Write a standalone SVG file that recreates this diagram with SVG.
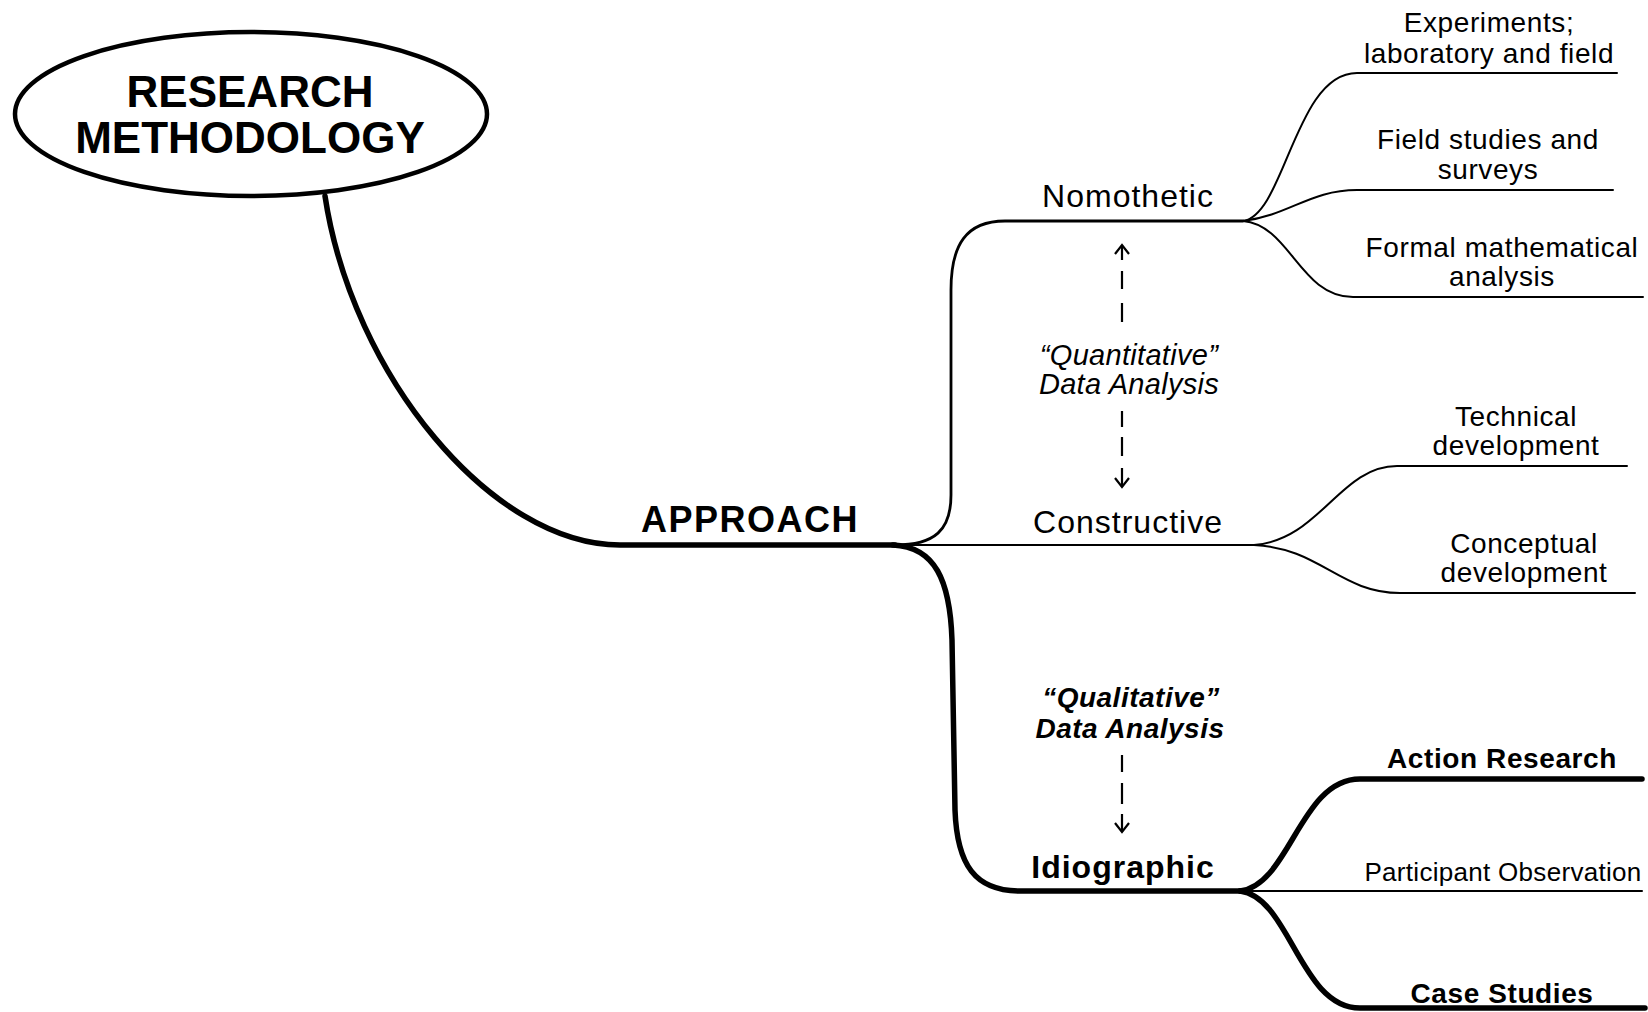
<svg xmlns="http://www.w3.org/2000/svg" width="1648" height="1012" viewBox="0 0 1648 1012">
  <style>
    text { font-family: "Liberation Sans", Arial, sans-serif; fill: #000; text-anchor: middle; }
    .title { font-size: 44px; font-weight: bold; }
    .root { font-size: 36px; font-weight: bold; letter-spacing: 1.5px; }
    .mid { font-size: 32px; letter-spacing: 1px; }
    .midb { font-size: 32px; font-weight: bold; letter-spacing: 1px; }
    .leaf { font-size: 28px; letter-spacing: 0.6px; }
    .leafb { font-size: 28px; font-weight: bold; letter-spacing: 0.6px; }
    .small { font-size: 26px; letter-spacing: 0.3px; }
    .note { font-size: 29px; font-style: italic; letter-spacing: 0.3px; }
    .noteb { font-size: 28px; font-style: italic; font-weight: bold; letter-spacing: 0.5px; }
    .wire { fill: none; stroke: #000; stroke-linecap: round; }
    .heavy { stroke-width: 5.5; }
    .medium { stroke-width: 2.8; }
    .light { stroke-width: 2; }
    .dash { fill: none; stroke: #000; stroke-width: 2.2; }
  </style>

  <!-- connectors -->
  <g id="connectors">
    <!-- root to APPROACH -->
    <path class="wire heavy" d="M325 196 C352 375 492 545 620 545 L895 545"/>
    <!-- APPROACH to the three approaches -->
    <path class="wire medium" d="M895 545 C935 545 951 530 951 495 L951 290 C951 245 966 221 1005 221 L1243 221"/>
    <path class="wire light" d="M895 545 L1254 545"/>
    <path class="wire heavy" d="M893 545 C935 547 950 580 952 640 L955 810 C957 865 975 891 1020 891 L1240 891"/>
    <!-- Nomothetic leaves -->
    <path class="wire light" d="M1243 221 C1285 215 1295 73 1357 73 L1617 73"/>
    <path class="wire light" d="M1243 221 C1290 215 1310 190 1357 190 L1613 190"/>
    <path class="wire light" d="M1243 221 C1290 225 1300 297 1353 297 L1643 297"/>
    <!-- Constructive leaves -->
    <path class="wire light" d="M1254 545 C1320 540 1340 466 1397 466 L1627 466"/>
    <path class="wire light" d="M1254 545 C1320 548 1340 593 1400 593 L1635 593"/>
    <!-- Idiographic leaves -->
    <path class="wire heavy" d="M1240 891 C1290 885 1300 779 1360 779 L1642 779"/>
    <path class="wire light" d="M1240 891 L1642 891"/>
    <path class="wire heavy" d="M1240 891 C1290 897 1300 1008 1360 1008 L1645 1008"/>
    <!-- quantitative range arrows -->
    <path class="dash" d="M1122 245 L1122 260 M1122 271 L1122 289 M1122 303 L1122 322"/>
    <path class="dash" d="M1115 254 L1122 245 L1129 254"/>
    <path class="dash" d="M1122 411 L1122 427 M1122 437 L1122 456 M1122 468 L1122 487"/>
    <path class="dash" d="M1115 478 L1122 487 L1129 478"/>
    <!-- qualitative range arrow -->
    <path class="dash" d="M1122 755 L1122 772 M1122 783 L1122 804 M1122 814 L1122 832"/>
    <path class="dash" d="M1115 823 L1122 832 L1129 823"/>
  </g>

  <g id="research-methodology">
    <ellipse cx="251" cy="114" rx="236" ry="82" fill="#fff" stroke="#000" stroke-width="4.5"/>
    <text class="title" x="250" y="107">RESEARCH</text>
    <text class="title" x="250" y="153">METHODOLOGY</text>
  </g>

  <g id="approach">
    <text class="root" x="750" y="532">APPROACH</text>
  </g>

  <g id="nomothetic">
    <text class="mid" x="1128" y="207">Nomothetic</text>
  </g>
  <g id="quantitative">
    <text class="note" x="1129" y="365">“Quantitative”</text>
    <text class="note" x="1129" y="394">Data Analysis</text>
  </g>
  <g id="constructive">
    <text class="mid" x="1128" y="533">Constructive</text>
  </g>
  <g id="qualitative">
    <text class="noteb" x="1131" y="707">“Qualitative”</text>
    <text class="noteb" x="1130" y="738">Data Analysis</text>
  </g>
  <g id="idiographic">
    <text class="midb" x="1123" y="878">Idiographic</text>
  </g>

  <g id="experiments">
    <text class="leaf" x="1489" y="32">Experiments;</text>
    <text class="leaf" x="1489" y="63">laboratory and field</text>
  </g>
  <g id="field-studies">
    <text class="leaf" x="1488" y="149">Field studies and</text>
    <text class="leaf" x="1488" y="179">surveys</text>
  </g>
  <g id="formal-analysis">
    <text class="leaf" x="1502" y="257">Formal mathematical</text>
    <text class="leaf" x="1502" y="286">analysis</text>
  </g>
  <g id="technical-development">
    <text class="leaf" x="1516" y="426">Technical</text>
    <text class="leaf" x="1516" y="455">development</text>
  </g>
  <g id="conceptual-development">
    <text class="leaf" x="1524" y="553">Conceptual</text>
    <text class="leaf" x="1524" y="582">development</text>
  </g>
  <g id="action-research">
    <text class="leafb" x="1502" y="768">Action Research</text>
  </g>
  <g id="participant-observation">
    <text class="small" x="1503" y="881">Participant Observation</text>
  </g>
  <g id="case-studies">
    <text class="leafb" x="1502" y="1003">Case Studies</text>
  </g>
</svg>
